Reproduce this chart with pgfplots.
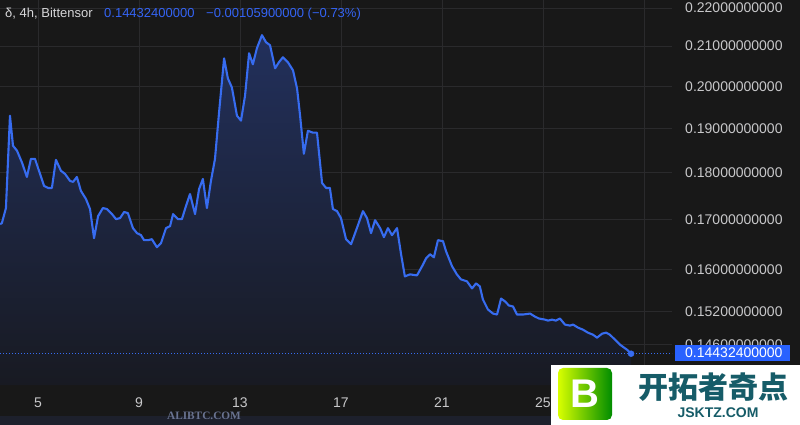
\documentclass[border=0pt]{standalone}
\usepackage{pgfplots}
\usepackage{pgfplotstable}
\pgfplotsset{compat=1.18}
\usepackage{fontspec}
\setmainfont{Liberation Sans}
\newfontfamily\cjk{Noto Sans CJK SC}
\newfontfamily\serifw{Liberation Serif}
\definecolor{bg}{RGB}{24,24,24}
\definecolor{gridc}{RGB}{42,42,44}
\definecolor{linec}{RGB}{55,108,240}
\definecolor{filltop}{RGB}{34,48,92}
\definecolor{fillbot}{RGB}{24,26,34}
\definecolor{lab}{RGB}{200,200,202}
\definecolor{hdr}{RGB}{215,215,217}
\definecolor{bluet}{RGB}{52,100,245}
\definecolor{boxblue}{RGB}{41,98,255}
\definecolor{tealc}{RGB}{22,92,104}
\definecolor{band}{RGB}{29,32,44}
\definecolor{wm}{RGB}{105,115,145}

\pgfplotstableread{
day value
3.50 0.16904
3.57 0.16925
3.73 0.17239
3.89 0.19296
4.01 0.18600
4.17 0.18486
4.37 0.18216
4.56 0.17906
4.72 0.18306
4.88 0.18306
5.04 0.18038
5.24 0.17710
5.40 0.17666
5.55 0.17666
5.71 0.18283
5.91 0.18038
6.07 0.17972
6.27 0.17819
6.39 0.17797
6.54 0.17906
6.70 0.17602
6.90 0.17430
7.06 0.17218
7.22 0.16616
7.38 0.17071
7.57 0.17239
7.73 0.17218
7.93 0.17112
8.09 0.17008
8.25 0.17029
8.41 0.17155
8.56 0.17134
8.76 0.16821
8.92 0.16719
9.08 0.16678
9.20 0.16576
9.36 0.16576
9.51 0.16596
9.71 0.16434
9.87 0.16515
10.07 0.16821
10.23 0.16863
10.35 0.17112
10.54 0.17008
10.70 0.17008
10.86 0.17281
11.02 0.17537
11.22 0.17112
11.38 0.17645
11.53 0.17862
11.69 0.17239
11.85 0.17819
12.01 0.18306
12.17 0.19367
12.37 0.20692
12.52 0.20191
12.68 0.19970
12.88 0.19296
13.04 0.19179
13.20 0.19775
13.36 0.20819
13.51 0.20541
13.67 0.20948
13.87 0.21284
14.03 0.21102
14.19 0.21025
14.39 0.20440
14.54 0.20591
14.70 0.20718
14.90 0.20591
15.10 0.20390
15.26 0.19945
15.38 0.19296
15.53 0.18418
15.69 0.18945
15.89 0.18898
16.05 0.18898
16.25 0.17775
16.41 0.17666
16.56 0.17666
16.68 0.17218
16.84 0.17175
17.00 0.17029
17.20 0.16596
17.40 0.16495
17.63 0.16821
17.87 0.17175
18.03 0.17029
18.19 0.16719
18.35 0.16987
18.55 0.16821
18.70 0.16637
18.86 0.16821
19.02 0.16678
19.22 0.16821
19.38 0.16294
19.53 0.15860
19.73 0.15899
20.01 0.15880
20.21 0.16056
20.37 0.16214
20.53 0.16294
20.68 0.16234
20.84 0.16576
21.04 0.16555
21.16 0.16354
21.40 0.16056
21.59 0.15899
21.75 0.15802
21.99 0.15764
22.19 0.15629
22.35 0.15725
22.50 0.15667
22.62 0.15420
22.82 0.15232
23.02 0.15157
23.18 0.15139
23.34 0.15438
23.50 0.15382
23.65 0.15307
23.81 0.15288
23.97 0.15139
24.21 0.15139
24.49 0.15157
24.68 0.15102
24.84 0.15065
25.08 0.15046
25.20 0.15028
25.36 0.15046
25.51 0.15028
25.67 0.15065
25.87 0.14954
26.07 0.14936
26.19 0.14954
26.39 0.14899
26.58 0.14863
26.78 0.14808
26.98 0.14772
27.14 0.14718
27.34 0.14790
27.50 0.14808
27.65 0.14772
27.85 0.14682
28.05 0.14592
28.33 0.14503
28.49 0.144324
}\pricedata

\begin{document}
\begin{tikzpicture}[x=1pt,y=1pt]
\fill[bg] (0,0) rectangle (800,425);
\fill[band] (0,0) rectangle (551,9);
\useasboundingbox (0,0) rectangle (800,425);
\begin{axis}[
  at={(0pt,40pt)}, anchor=south west,
  width=672pt, height=385pt, scale only axis,
  ymode=log, log origin y=infty,
  xmin=3.495, xmax=30.11, ymin=0.13892, ymax=0.22216,
  axis line style={draw=none},
  major tick length=0pt,
  xtick={5,9,13,17,21,25,29},
  xticklabels={5,9,13,17,21,25,{}},
  ytick={0.146,0.152,0.16,0.17,0.18,0.19,0.20,0.21,0.22},
  yticklabels={0.14600000000,0.15200000000,0.16000000000,0.17000000000,0.18000000000,0.19000000000,0.20000000000,0.21000000000,0.22000000000},
  yticklabel pos=right,
  grid=major,
  major grid style={gridc, line width=0.8pt},
  ticklabel style={font=\fontsize{14}{16}\selectfont, text=lab},
  yticklabel style={anchor=west, xshift=9.7pt},
  xticklabel style={yshift=-9pt},
  clip=true,
]
\addplot[draw=none, top color=filltop, bottom color=fillbot] table[x=day, y=value] {\pricedata} \closedcycle;
\addplot[linec, line width=2.1pt, line join=round] table[x=day, y=value] {\pricedata};
\addplot[linec, line width=0.9pt, dash pattern=on 1pt off 2pt] coordinates {(3.495,0.144324) (30.11,0.144324)};
\addplot[only marks, mark=*, mark size=3pt, linec] coordinates {(28.49,0.144324)};
\end{axis}
% price box
\fill[boxblue] (675,64) rectangle (790,80);
\node[anchor=west, inner sep=0, font=\fontsize{14}{16}\selectfont, text=white] at (685,72) {0.14432400000};
% header
\node[anchor=base west, inner sep=0, font=\fontsize{13}{15}\selectfont, text=hdr] at (5,407) {δ, 4h, Bittensor};
\node[anchor=base west, inner sep=0, font=\fontsize{13}{15}\selectfont, text=bluet] at (104,407) {0.14432400000};
\node[anchor=base west, inner sep=0, font=\fontsize{13}{15}\selectfont, text=bluet] at (206,407) {−0.00105900000 (−0.73\%)};
% watermark ALIBTC
\node[inner sep=0, font=\serifw\bfseries\fontsize{11.3}{12}\selectfont, text=wm] at (204,9) {ALIBTC.COM};
% logo box
\fill[white] (551,0) rectangle (800,60);
\shade[rounded corners=5pt, left color=yellow!85!green, right color=green!55!black] (558,5) rectangle (612,57);
\node[inner sep=0, font=\bfseries\fontsize{40}{40}\selectfont, text=white] at (585,31) {B};
\node[anchor=west, inner sep=0, font=\cjk\bfseries\fontsize{30}{30}\selectfont, text=tealc] at (638,38) {开拓者奇点};
\node[inner sep=0, font=\bfseries\fontsize{14}{14}\selectfont, text=tealc] at (718,12) {JSKTZ.COM};
\end{tikzpicture}
\end{document}
